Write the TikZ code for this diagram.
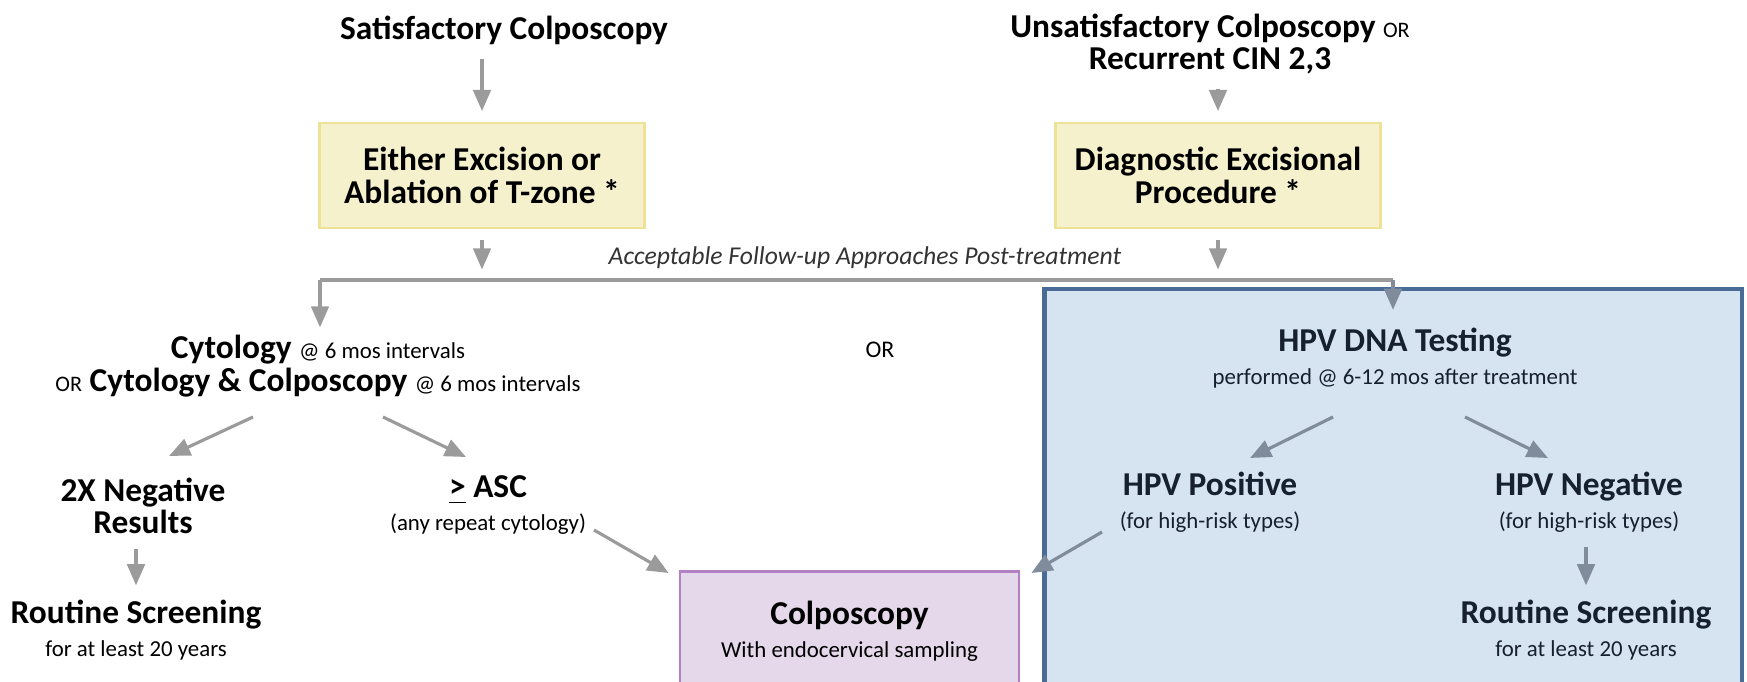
\documentclass[tikz,border=0pt]{standalone}
\usepackage{fontspec}
\setmainfont{Carlito}
\usetikzlibrary{arrows.meta,positioning,calc}
\definecolor{colpoYellow}{RGB}{246,241,205}
\definecolor{colpoYellowLine}{RGB}{238,226,150}
\definecolor{colpoBlue}{RGB}{214,227,240}
\definecolor{colpoBlueLine}{RGB}{72,108,150}
\definecolor{colpoPurple}{RGB}{228,216,234}
\definecolor{colpoPurpleLine}{RGB}{178,128,196}
\definecolor{colpoGray}{RGB}{155,155,155}
\definecolor{colpoSlate}{RGB}{128,140,155}
\definecolor{colpoNavy}{RGB}{22,32,48}
\newcommand{\subtxt}[1]{{\fontsize{6.5}{7}\selectfont\mdseries #1}}
\newcommand{\ortxt}{{\fontsize{6.3}{7}\selectfont\mdseries OR}}

\begin{document}
\begin{tikzpicture}[
    hd/.style={font=\fontsize{9.5}{9.3}\selectfont\bfseries, align=center, inner sep=1pt},
    tbox/.style={rectangle, draw=colpoYellowLine, fill=colpoYellow, line width=0.8pt,
                 minimum width=3.25cm, minimum height=1.05cm, hd},
    arr/.style={-{Triangle[length=6pt,width=5pt]}, colpoGray, line width=0.9pt,
                shorten <=3pt, shorten >=3pt},
    arrb/.style={arr, colpoSlate},
    bar/.style={colpoGray, line width=1.2pt}
  ]
  \path[use as bounding box, clip] (0,0) rectangle (17.47,-6.82);

  % blue region for HPV testing
  \draw[fill=colpoBlue, draw=colpoBlueLine, line width=1.4pt]
    (10.445,-2.89) rectangle (17.42,-7.3);

  % top row
  \node[hd] (sat)   at (5.04,-0.30) {Satisfactory Colposcopy};
  \node[hd] (unsat) at (12.10,-0.44) {Unsatisfactory Colposcopy \ortxt\\Recurrent CIN 2,3};
  \node[tbox] (box1) at (4.82,-1.755) {Either Excision or\\Ablation of T-zone *};
  \node[tbox] (box2) at (12.18,-1.755) {Diagnostic Excisional\\Procedure *};
  \node[font=\fontsize{7.3}{8}\selectfont\itshape, text=black!80] (follow) at (8.65,-2.58)
    {Acceptable Follow-up Approaches Post-treatment};

  \coordinate (barL) at (3.20,-2.80);
  \coordinate (barR) at (13.93,-2.80);

  % cytology branch
  \node[hd] (cyt) at (3.18,-3.66)
    {Cytology \subtxt{@ 6 mos intervals}\\\ortxt{} Cytology \& Colposcopy \subtxt{@ 6 mos intervals}};
  \node[font=\fontsize{6.8}{7}\selectfont] (ormid) at (8.80,-3.50) {OR};
  \node[hd] (neg2x) at (1.43,-5.06) {2X Negative\\Results};
  \node[hd] (asc)   at (4.88,-5.05) {\underline{>} ASC\\\subtxt{(any repeat cytology)}};
  \node[hd] (rsL)   at (1.36,-6.30) {Routine Screening\\\subtxt{for at least 20 years}};

  % colposcopy box
  \node[hd, rectangle, draw=colpoPurpleLine, fill=colpoPurple, line width=0.8pt,
        minimum width=3.39cm, minimum height=1.2cm, anchor=north] (colp) at (8.495,-5.70)
    {Colposcopy\\\subtxt{With endocervical sampling}};

  % HPV branch
  \node[hd, text=colpoNavy] (hpv) at (13.95,-3.58)
    {HPV DNA Testing\\\subtxt{performed @ 6-12 mos after treatment}};
  \node[hd, text=colpoNavy] (hpvpos) at (12.10,-5.02) {HPV Positive\\\subtxt{(for high-risk types)}};
  \node[hd, text=colpoNavy] (hpvneg) at (15.89,-5.02) {HPV Negative\\\subtxt{(for high-risk types)}};
  \node[hd, text=colpoNavy] (rsR) at (15.86,-6.30) {Routine Screening\\\subtxt{for at least 20 years}};

  % connectors
  \draw[arr] (box1 |- sat.south) -- (box1.north);
  \draw[arr] (box2 |- unsat.south) -- (box2.north);
  \draw[arr] (box1.south) -- (box1 |- barL);
  \draw[arr] (box2.south) -- (box2 |- barR);
  \draw[bar] (barL) -- (barR);
  \draw[arr, shorten <=0pt, shorten >=1pt] (barL) -- (barL |- cyt.north);
  \draw[arrb, shorten <=0pt, shorten >=4pt] (barR) -- (barR |- hpv.north);

  \draw[arr, shorten <=0pt, shorten >=0pt] ($(cyt)+(-0.65,-0.51)$) -- ($(neg2x)+(0.26,0.50)$);
  \draw[arr, shorten <=0pt, shorten >=0pt] ($(cyt)+(0.65,-0.51)$) -- ($(asc)+(-0.22,0.48)$);
  \draw[arr] (rsL |- neg2x.south) -- (rsL.north);
  \draw[arr, shorten <=0pt, shorten >=0pt] ($(asc)+(1.06,-0.25)$) -- ($(colp.north west)+(-0.10,-0.03)$);

  \draw[arrb, shorten <=0pt, shorten >=0pt] ($(hpv)+(-0.62,-0.59)$) -- ($(hpvpos)+(0.40,0.44)$);
  \draw[arrb, shorten <=0pt, shorten >=0pt] ($(hpv)+(0.70,-0.59)$) -- ($(hpvneg)+(-0.41,0.44)$);
  \draw[arrb, shorten <=0pt, shorten >=0pt] ($(hpvpos)+(-1.08,-0.30)$) -- ($(colp.north east)+(0.11,-0.03)$);
  \draw[arrb] (rsR |- hpvneg.south) -- (rsR.north);
\end{tikzpicture}
\end{document}
